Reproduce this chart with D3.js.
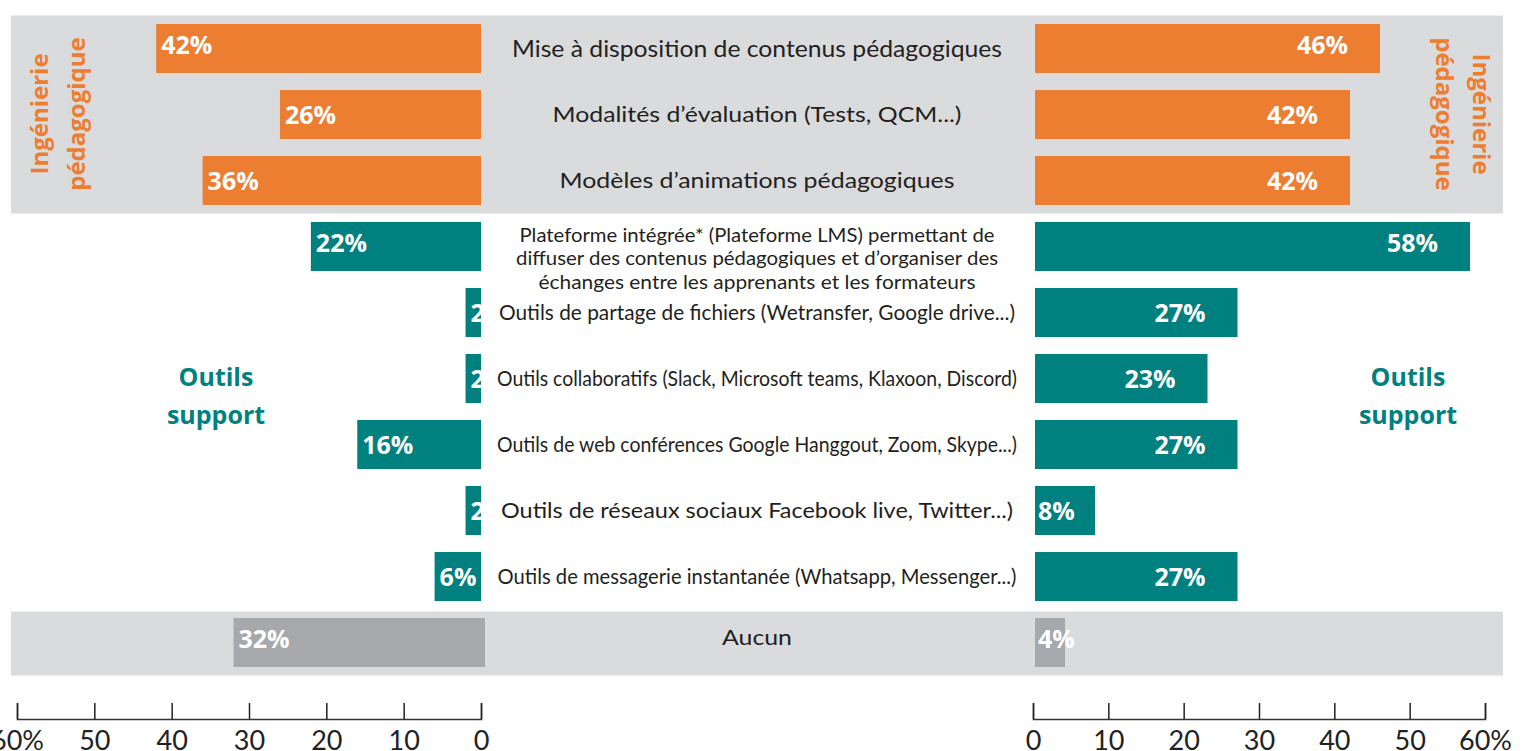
<!DOCTYPE html>
<html><head><meta charset="utf-8">
<script src="https://cdn.jsdelivr.net/npm/d3@7"></script>
<style>html,body{margin:0;padding:0;background:#fff;overflow:hidden}</style>
</head><body>
<svg id="chart" width="1535" height="751"></svg>
<script>
// ---- data ----
const categories = [
  "Mise à disposition de contenus pédagogiques",
  "Modalités d’évaluation (Tests, QCM...)",
  "Modèles d’animations pédagogiques",
  "Plateforme intégrée* (Plateforme LMS) permettant de\ndiffuser des contenus pédagogiques et d’organiser des\néchanges entre les apprenants et les formateurs",
  "Outils de partage de fichiers (Wetransfer, Google drive...)",
  "Outils collaboratifs (Slack, Microsoft teams, Klaxoon, Discord)",
  "Outils de web conférences Google Hanggout, Zoom, Skype...)",
  "Outils de réseaux sociaux Facebook live, Twitter...)",
  "Outils de messagerie instantanée (Whatsapp, Messenger...)",
  "Aucun"
];
const groups = ["ing","ing","ing","out","out","out","out","out","out","none"];
const leftValues  = [42, 26, 36, 22, 2, 2, 16, 2, 6, 32];
const rightValues = [46, 42, 42, 58, 27, 23, 27, 8, 27, 4];
const axisTicks = [0, 10, 20, 30, 40, 50, 60];
const groupTitles = { ing: ["Ingénierie", "pédagogique"], out: ["Outils", "support"] };

// ---- layout / style (not data) ----
const labelWidths = [490, 409, 395, [475, 482, 437], 516, 520, 520, 512, 519, 70];
const labelSizes = [23, 22, 22, 19, 21, 21, 21, 22, 21, 21];
const colors = { ing: "#ED7D31", out: "#00807F", none: "#A7A8AB", band: "#DADBDD", text: "#231F20" };

const svg = d3.select("#chart");
const y = d3.scaleBand().domain(d3.range(categories.length))
  .range([15.5, 675.5]).paddingInner(17/66).paddingOuter(8.5/66);
const xL = d3.scaleLinear().domain([0, 60]).range([481, 17]);
const xR = d3.scaleLinear().domain([0, 60]).range([1035, 1485]);
const centerX = 757;

// background bands
const step = y.step();
const bandTop = 15.5;
svg.append("rect").attr("x", 11).attr("width", 1492)
  .attr("y", bandTop).attr("height", step * 3).attr("fill", colors.band);
svg.append("rect").attr("x", 11).attr("width", 1492)
  .attr("y", bandTop + step * 9 + 2).attr("height", step - 2).attr("fill", colors.band);

const idx = d3.range(categories.length);

// left bars
svg.append("g").selectAll("rect").data(idx).join("rect")
  .attr("x", i => xL(leftValues[i]))
  .attr("width", i => xL(0) - xL(leftValues[i]) + (groups[i] === "none" ? 4 : 0))
  .attr("y", i => y(i)).attr("height", y.bandwidth())
  .attr("fill", i => colors[groups[i]]);

// right bars
svg.append("g").selectAll("rect").data(idx).join("rect")
  .attr("x", xR(0))
  .attr("width", i => xR(rightValues[i]) - xR(0))
  .attr("y", i => y(i)).attr("height", y.bandwidth())
  .attr("fill", i => colors[groups[i]]);

const valFont = "'Open Sans', sans-serif";
// left value labels
svg.append("g").selectAll("text").data(idx).join("text")
  .attr("x", i => xL(leftValues[i]) + 5)
  .attr("y", i => y(i) + y.bandwidth() / 2 - (i === 0 || i === 3 || i === 9 ? 4 : 0))
  .attr("dy", "0.36em")
  .attr("font-family", valFont).attr("font-weight", 700).attr("font-size", 25)
  .attr("fill", "#fff")
  .text(i => leftValues[i] + "%");

// right value labels
svg.append("g").selectAll("text").data(idx).join("text")
  .attr("x", i => {
    const w = xR(rightValues[i]) - xR(0);
    return w > 90 ? xR(rightValues[i]) - 32 : xR(0) + 3;
  })
  .attr("text-anchor", i => (xR(rightValues[i]) - xR(0)) > 90 ? "end" : "start")
  .attr("y", i => y(i) + y.bandwidth() / 2 - (i === 0 || i === 3 || i === 9 ? 4 : 0))
  .attr("dy", "0.36em")
  .attr("font-family", valFont).attr("font-weight", 700).attr("font-size", 25)
  .attr("fill", "#fff")
  .text(i => rightValues[i] + "%");

// category labels
const catG = svg.append("g").attr("font-family", "Lato, 'Open Sans', sans-serif").attr("fill", colors.text);
idx.forEach(i => {
  const lines = categories[i].split("\n");
  const fs = labelSizes[i];
  const lh = 23.5;
  const cy = y(i) + y.bandwidth() / 2 + (lines.length > 1 ? 12 : 0) - (i === 9 ? 5 : 0);
  lines.forEach((ln, k) => {
    const w = Array.isArray(labelWidths[i]) ? labelWidths[i][k] : labelWidths[i];
    catG.append("text")
      .attr("x", centerX).attr("text-anchor", "middle")
      .attr("y", cy + (k - (lines.length - 1) / 2) * lh)
      .attr("dy", "0.35em")
      .attr("font-size", fs)
      .attr("textLength", w).attr("lengthAdjust", "spacingAndGlyphs")
      .text(ln);
  });
});

// group titles
const tFont = "'Open Sans', sans-serif";
function rotatedTitle(x, yc, rot, lines, color) {
  const t = svg.append("text")
    .attr("transform", `translate(${x},${yc}) rotate(${rot})`)
    .attr("text-anchor", "middle")
    .attr("font-family", tFont).attr("font-weight", 700).attr("font-size", 24)
    .attr("fill", color);
  lines.forEach((ln, k) => t.append("tspan").attr("x", 0).attr("y", k * 37).attr("dy", "0.35em").text(ln));
}
rotatedTitle(40, 114, -90, groupTitles.ing, colors.ing);
rotatedTitle(1481, 114, 90, groupTitles.ing, colors.ing);

function plainTitle(x, yTop, lines, color) {
  const t = svg.append("text").attr("text-anchor", "middle")
    .attr("font-family", tFont).attr("font-weight", 700).attr("font-size", 25)
    .attr("fill", color);
  lines.forEach((ln, k) => t.append("tspan").attr("x", x).attr("y", yTop + k * 38).attr("dy", "0.35em").text(ln));
}
plainTitle(216, 377, groupTitles.out, colors.out);
plainTitle(1408, 377, groupTitles.out, colors.out);

// axes
const fmt = d => d === 60 ? "60%" : String(d);
function drawAxis(scale) {
  const g = svg.append("g").attr("transform", "translate(0,719)")
    .call(d3.axisTop(scale).tickValues(axisTicks).tickSize(16).tickSizeOuter(16).tickFormat(fmt));
  g.select(".domain").attr("stroke", "#333").attr("stroke-width", 1.5);
  g.selectAll(".tick line").attr("stroke", "#222").attr("stroke-width", 1.5);
  g.selectAll(".tick text").attr("y", 31).attr("dy", "0")
    .attr("font-family", "Lato, 'Open Sans', sans-serif").attr("font-size", 27)
    .attr("fill", "#222");
}
drawAxis(xL);
drawAxis(d3.scaleLinear().domain([0, 60]).range([1033, 1485]));
</script>
</body></html>
